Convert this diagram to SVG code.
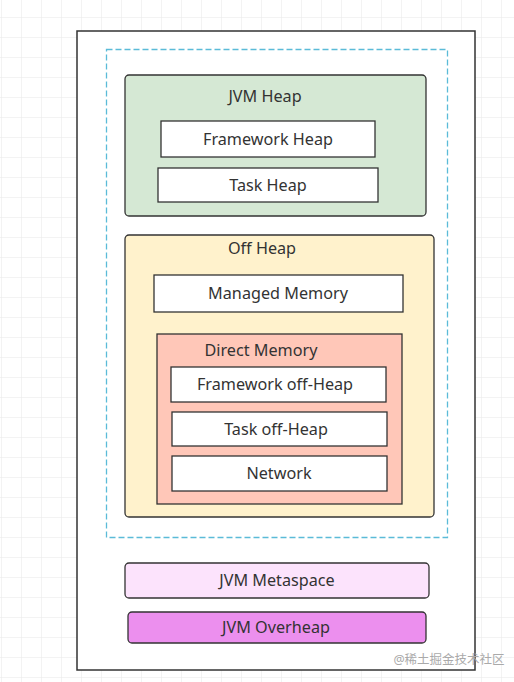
<svg xmlns="http://www.w3.org/2000/svg" width="514" height="682" viewBox="0 0 514 682">
<defs>
<pattern id="grid" width="20" height="20" patternUnits="userSpaceOnUse" x="1" y="-3">
<path d="M20 0 L0 0 0 20" fill="none" stroke="#e8e8e8" stroke-width="1"/>
</pattern>
<style>
text{font-family:"Noto Sans","Open Sans","Liberation Sans",sans-serif;font-size:16.2px;fill:#333;text-anchor:middle;dominant-baseline:central}
.box{stroke:#333;stroke-width:1.3}
.w{fill:#fff}
</style>
</defs>
<rect width="514" height="682" fill="#fff"/>
<rect width="514" height="682" fill="url(#grid)"/>
<g id="outer"><rect x="77" y="31" width="398" height="639" fill="#fff" stroke="#333" stroke-width="1.5"/></g>
<g id="dashed"><rect x="106.5" y="49.5" width="341" height="488" fill="none" stroke="#5bbbd8" stroke-width="1.3" stroke-dasharray="6,3"/></g>
<g id="jvm-heap">
<rect class="box" x="125" y="75" width="301" height="141" rx="4" fill="#d5e8d4"/>
<text x="265" y="96">JVM Heap</text>
</g>
<g id="framework-heap"><rect class="box w" x="161" y="121" width="214" height="36"/><text x="268" y="139">Framework Heap</text></g>
<g id="task-heap"><rect class="box w" x="158" y="168" width="220" height="34"/><text x="268" y="185">Task Heap</text></g>
<g id="off-heap">
<rect class="box" x="125" y="235" width="309" height="282" rx="4" fill="#fff2cc"/>
<text x="262" y="248">Off Heap</text>
</g>
<g id="managed-memory"><rect class="box w" x="154" y="275" width="249" height="37"/><text x="278" y="293">Managed Memory</text></g>
<g id="direct-memory">
<rect class="box" x="157" y="334" width="245" height="170" fill="#ffc7b8"/>
<text x="261" y="350">Direct Memory</text>
</g>
<g id="framework-off-heap"><rect class="box w" x="171" y="367" width="215" height="35"/><text x="275" y="384">Framework off-Heap</text></g>
<g id="task-off-heap"><rect class="box w" x="172" y="412" width="215" height="34"/><text x="276" y="429">Task off-Heap</text></g>
<g id="network"><rect class="box w" x="172" y="456" width="215" height="35"/><text x="279" y="473">Network</text></g>
<g id="jvm-metaspace"><rect class="box" x="125" y="563" width="304" height="35" rx="4" fill="#fce3fc"/><text x="277" y="580">JVM Metaspace</text></g>
<g id="jvm-overheap"><rect class="box" x="128" y="612" width="298" height="31" rx="4" fill="#ec8fee"/><text x="276" y="627">JVM Overheap</text></g>
<g id="connectors"></g>
<text x="449" y="659" style="font-size:12.5px;fill:#aaa;font-family:'Noto Sans','Noto Sans CJK SC',sans-serif">@稀土掘金技术社区</text>
</svg>
